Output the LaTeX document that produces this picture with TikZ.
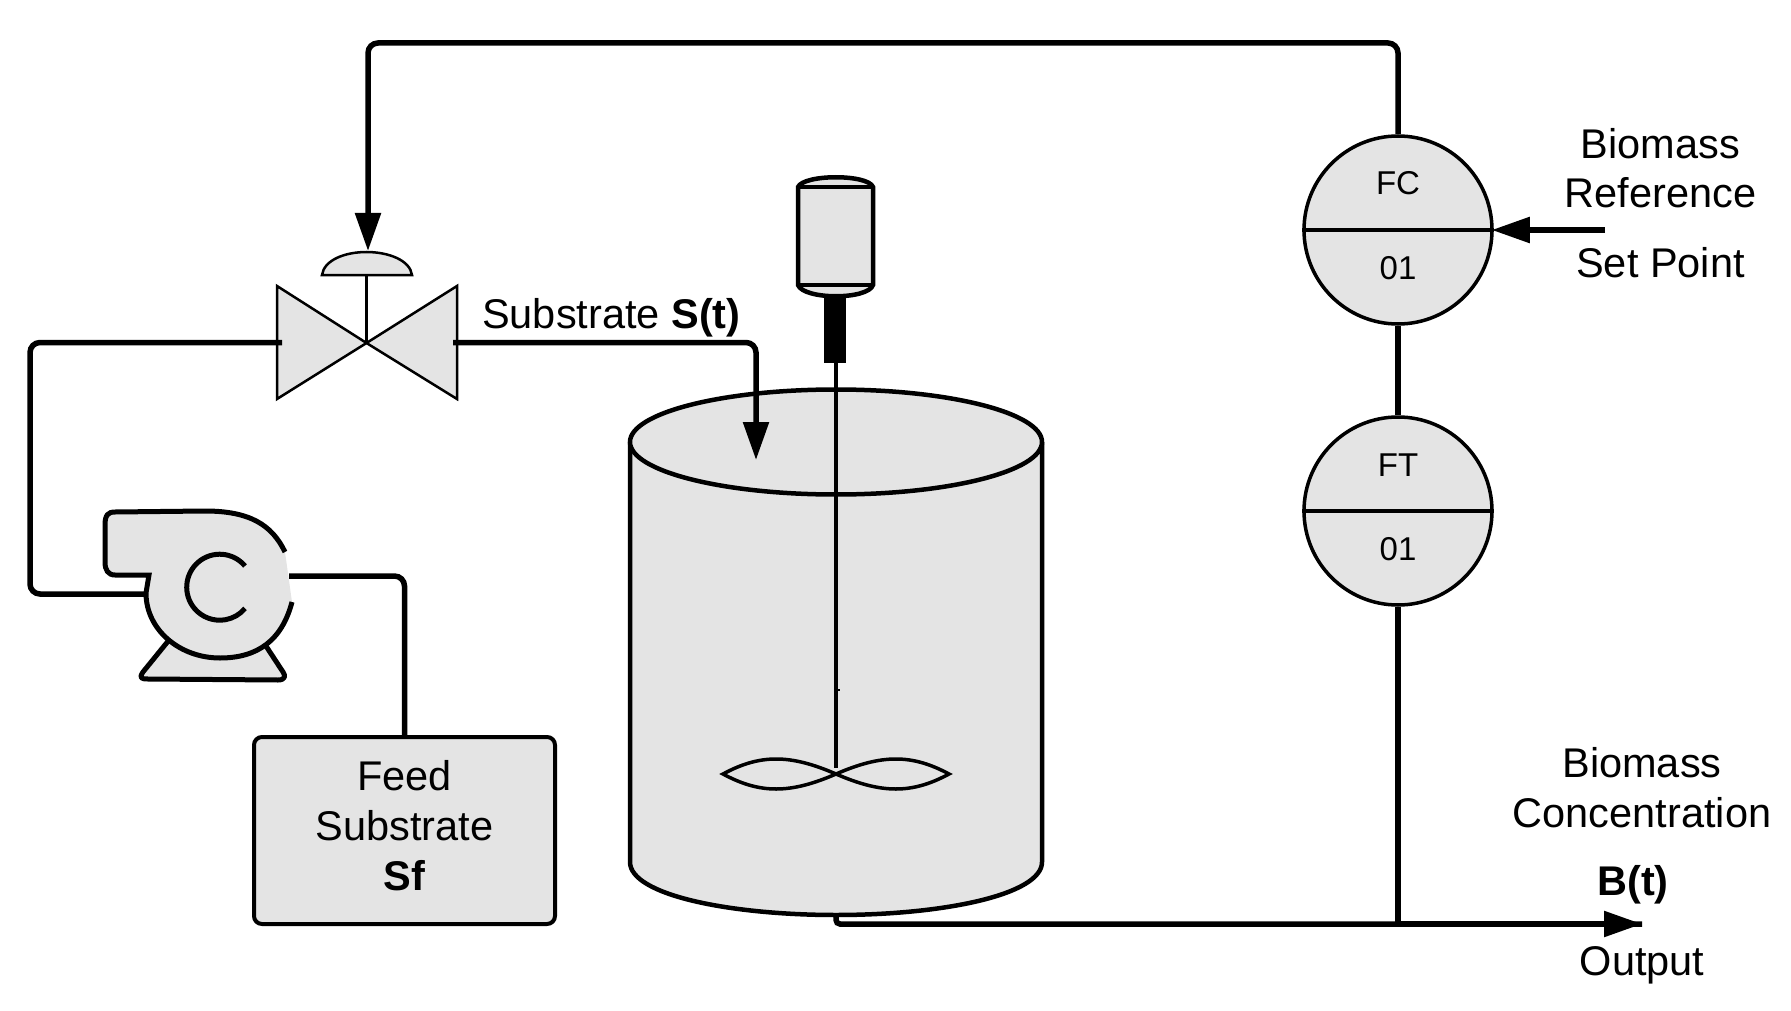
\documentclass[tikz,border=0pt]{standalone}
\usepackage{fontspec}
\setmainfont{Liberation Sans}
\usetikzlibrary{arrows.meta}
\definecolor{vesselgray}{HTML}{E4E4E4}
\tikzset{
  pipe/.style={line width=5.5pt, rounded corners=10pt},
  flow/.style={pipe, -{Triangle[length=38pt,width=25pt]}},
  part/.style={draw, fill=vesselgray, line width=4.5pt},
  thinpart/.style={draw, fill=vesselgray, line width=2.5pt},
  instr/.style={circle, draw, fill=vesselgray, line width=3.5pt, minimum size=188pt, inner sep=0pt},
  bigtext/.style={align=center, anchor=base, inner sep=0pt, font=\fontsize{41.5}{50}\selectfont},
  smalltext/.style={anchor=base, inner sep=0pt, font=\fontsize{33}{40}\selectfont}
}
\begin{document}
\begin{tikzpicture}[x=1pt, y=-1pt]
  \useasboundingbox (0,0) rectangle (1791,1011);
  % tank
  \coordinate (tankout) at (836,914);
  \coordinate (outend) at (1642,924);
  \draw[pipe, rounded corners=4pt] (tankout) |- (outend);
  \draw[part] (630,442) -- (630,862) .. controls (630,895) and (730,915) .. (836,915)
    .. controls (942,915) and (1042,895) .. (1042,862) -- (1042,442);
  \draw[part] (836,442) ellipse [x radius=206, y radius=52.5];
  % agitator
  \draw[part] (798,187) .. controls (804,174) and (868,174) .. (873,187) -- (873,285)
    .. controls (868,300) and (804,300) .. (798,285) -- cycle;
  \draw[line width=4pt] (798,187) -- (873,187) (798,285) -- (873,285);
  \node[fill=black, inner sep=0pt, minimum width=22pt, minimum height=67pt] (drive) at (835,329.5) {};
  \coordinate (hub) at (836,768);
  \draw[line width=3.5pt] (drive.south -| hub) -- (hub);
  \draw[line width=2pt] (836,690) -- (840,690);
  \draw[line width=3.5pt] (836,774) .. controls (790,754) and (760,754) .. (723,774)
    .. controls (760,794) and (790,794) .. (836,774)
    .. controls (882,754) and (912,754) .. (949,774)
    .. controls (912,794) and (882,794) .. (836,774) -- cycle;
  % valve
  \coordinate (valve) at (366.5,343);
  \draw[thinpart] (valve) -- (277,286) -- (277,399) -- cycle;
  \draw[thinpart] (valve) -- (457,286) -- (457,399) -- cycle;
  \coordinate (valvetop) at (366.5,275);
  \draw[thinpart] (322,275) .. controls (324,260) and (345,252) .. (366.5,252)
    .. controls (388,252) and (410,260) .. (412,275) -- cycle;
  \draw[line width=2.5pt] (valvetop) -- (valve);
  % pump
  \fill[vesselgray] (169,640) -- (143,677) -- (285,680) -- (264,647) -- cycle;
  \draw[line width=5pt, line join=round] (169,640) -- (143,672) .. controls (139,678) and (141,679) .. (148,679)
    -- (278,680) .. controls (285,680) and (286,676) .. (283,672) -- (264,643);
  \coordinate (pumpin) at (146,594);
  \coordinate (pumpout) at (289,576);
  \fill[vesselgray] (149,575) -- (115,575) .. controls (108,575) and (105,570) .. (105,562) -- (105,525)
    .. controls (105,515) and (108,512) .. (115,512) -- (205,511) .. controls (250,511) and (272,525) .. (285,552)
    -- (292,602) .. controls (282,640) and (258,658) .. (220,658) .. controls (180,658) and (146,630) .. (146,593) -- cycle;
  \draw[line width=5pt] (285,552) .. controls (272,525) and (250,511) .. (205,511) -- (115,512)
    .. controls (108,512) and (105,515) .. (105,525) -- (105,562) .. controls (105,570) and (108,575) .. (115,575)
    -- (149,575) -- (146,593) .. controls (146,630) and (180,658) .. (220,658) .. controls (258,658) and (282,640) .. (292,602);
  \draw[line width=5pt] (245,566) arc [start angle=40, end angle=320, radius=33pt];
  % feed
  \node[part, rounded corners=8pt, minimum width=301pt, minimum height=187pt, inner sep=0pt,
    line width=4pt] (feed) at (404.5,830.5) {};
  \node[bigtext] (feedtext) at (404.5,890) {Feed\\Substrate\\\textbf{Sf}};
  % instruments
  \foreach \n/\t/\y in {fc/FC/230,ft/FT/511} {
    \node[instr] (\n) at (1398,\y) {};
    \draw[line width=3.5pt] (\n.west) -- (\n.east);
    \node[smalltext] (\n top) at (1398,\y-35) {\t};
    \node[smalltext] (\n num) at (1398,\y+49) {01};
  }
  % lines
  \draw[flow] (fc.north) |- (368,43) -- (368,251);
  \draw[pipe] (fc.south) -- (ft.north);
  \draw[pipe] (ft.south) -- (1398,924);
  \draw[flow] (453,342.5) -| (756,460);
  \draw[pipe] (282,342.5) -| (30,594) -- (pumpin);
  \draw[pipe] (pumpout) -| (feed.north);
  \draw[flow, rounded corners=0pt] (1398,924) -- (outend);
  \draw[flow, rounded corners=0pt, shorten >=-2pt] (1605,230) -- (fc.east);
  % labels
  \node[bigtext, anchor=base west] (substrate) at (482,328) {Substrate \textbf{S(t)}};
  \node[bigtext] (reference) at (1660.5,208) {Biomass\\Reference};
  \node[bigtext] (setpoint) at (1660.5,277) {Set Point};
  \node[bigtext] (concentration) at (1642,827) {Biomass\\Concentration};
  \node[bigtext] (bt) at (1633,895) {\textbf{B(t)}};
  \node[bigtext] (output) at (1642,975) {Output};
\end{tikzpicture}
\end{document}
